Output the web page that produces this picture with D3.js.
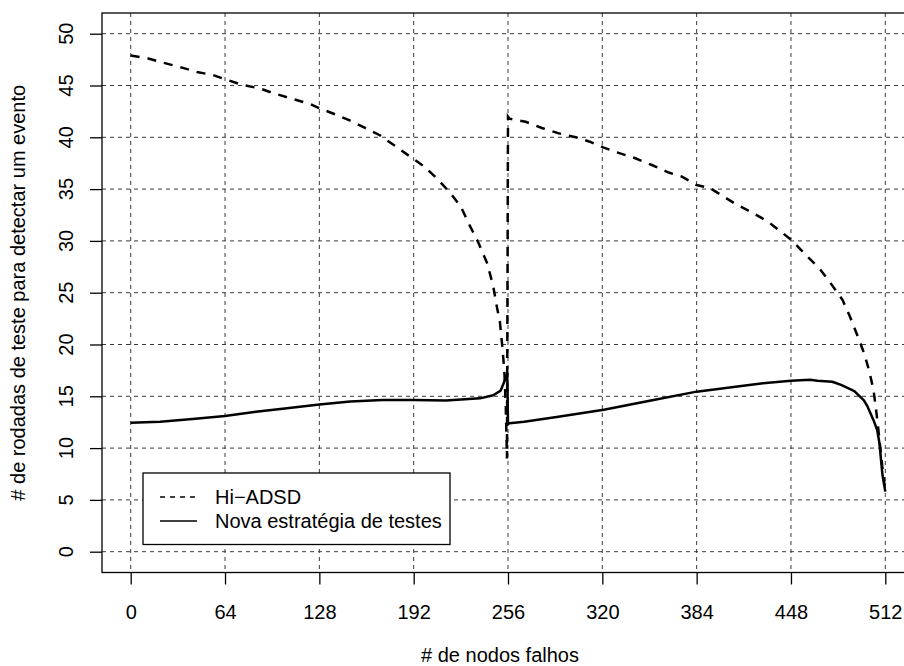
<!DOCTYPE html>
<html>
<head>
<meta charset="utf-8">
<script src="https://cdn.jsdelivr.net/npm/d3@7"></script>
<style>
  body { margin: 0; background: #fff; }
  text { font-family: "Liberation Sans", Arial, sans-serif; fill: #000; }
</style>
</head>
<body>
<script>
// values
const hiX = [0, 12, 22, 33, 45, 56, 64, 76, 88, 97, 110, 122, 128, 140, 149, 159, 169, 180, 190, 199,
  208, 217, 224, 230, 236, 242, 246, 248.5, 250.5, 252, 253.5, 254.5, 255.3, 256, 257, 268, 279, 290,
  302, 311, 321, 331, 342, 354, 365, 374, 384, 393, 401, 410, 422, 432, 442, 449, 459, 467, 475, 483,
  488, 493, 497.5, 501, 504, 506, 507.6, 509, 510.5, 512];
const hiY = [47.9, 47.6, 47.2, 46.8, 46.3, 46.0, 45.6, 45.05, 44.7, 44.25, 43.7, 43.2, 42.8, 42.15, 41.6,
  40.9, 40.2, 39.1, 38.1, 37.2, 36.0, 34.6, 33.3, 31.5, 29.8, 27.8, 25.6, 23.6, 22.2, 20, 17.5, 14, 9,
  42, 41.8, 41.5, 40.9, 40.4, 40.0, 39.6, 39.0, 38.5, 38.0, 37.3, 36.6, 36.2, 35.4, 35.1, 34.4, 33.6,
  32.7, 31.9, 30.8, 30.0, 28.5, 27.4, 25.9, 24.3, 22.7, 20.9, 19.2, 17.5, 15.6, 13.4, 11.4, 9.5, 7.5, 5.9];

const novaX = [0, 20, 42, 64, 85, 106, 128, 149, 171, 192, 214, 237, 246, 251, 254, 255.5, 256, 257,
  267, 289, 321, 353, 384, 409, 429, 448, 461, 466, 476, 482, 491, 497.5, 500, 504, 506.5, 508, 510, 512];
const novaY = [12.45, 12.55, 12.8, 13.1, 13.5, 13.85, 14.2, 14.5, 14.65, 14.65, 14.6, 14.8, 15.1, 15.55,
  16.6, 17.2, 12.3, 12.4, 12.55, 13.0, 13.7, 14.6, 15.45, 15.9, 16.25, 16.5, 16.6, 16.5, 16.4, 16.1,
  15.5, 14.6, 14.0, 12.7, 11.75, 10.5, 7.5, 5.8];

const xTicks = [0, 64, 128, 192, 256, 320, 384, 448, 512];
const yTicks = [0, 5, 10, 15, 20, 25, 30, 35, 40, 45, 50];
const seriesNames = ["Hi\u2212ADSD", "Nova estratégia de testes"];

const W = 904, H = 666;
const box = { left: 102, top: 13, right: 916, bottom: 572.5 };

const x = d3.scaleLinear().domain([0, 512]).range([130.7, 885.3]);
const y = d3.scaleLinear().domain([0, 50]).range([551.7, 33.7]);

const svg = d3.select("body").append("svg")
  .attr("width", W).attr("height", H);

svg.append("defs").append("clipPath").attr("id", "plotclip")
  .append("rect")
  .attr("x", box.left).attr("y", box.top)
  .attr("width", box.right - box.left).attr("height", box.bottom - box.top);

// grid
const grid = svg.append("g").attr("clip-path", "url(#plotclip)");
grid.selectAll("line.v").data(xTicks).enter().append("line")
  .attr("x1", d => x(d)).attr("x2", d => x(d))
  .attr("y1", box.top).attr("y2", box.bottom)
  .attr("stroke", "#3a3a3a").attr("stroke-width", 1).attr("stroke-dasharray", "4,4");
grid.selectAll("line.h").data(yTicks).enter().append("line")
  .attr("y1", d => y(d)).attr("y2", d => y(d))
  .attr("x1", box.left).attr("x2", box.right)
  .attr("stroke", "#3a3a3a").attr("stroke-width", 1).attr("stroke-dasharray", "4,4");

// series
const line = d3.line().x(d => x(d[0])).y(d => y(d[1]));
const hiData = hiX.map((v, i) => [v, hiY[i]]);
const novaData = novaX.map((v, i) => [v, novaY[i]]);

const plot = svg.append("g").attr("clip-path", "url(#plotclip)");
plot.append("path").datum(hiData)
  .attr("d", line).attr("fill", "none").attr("stroke", "#000")
  .attr("stroke-width", 2.5).attr("stroke-dasharray", "9,8");
plot.append("path").datum(novaData)
  .attr("d", line).attr("fill", "none").attr("stroke", "#000")
  .attr("stroke-width", 2.5).attr("stroke-linejoin", "round");

// box
svg.append("rect")
  .attr("x", box.left).attr("y", box.top)
  .attr("width", box.right - box.left).attr("height", box.bottom - box.top)
  .attr("fill", "none").attr("stroke", "#000").attr("stroke-width", 1.3);

// x axis
const xAxis = svg.append("g").attr("transform", `translate(0,${box.bottom})`)
  .call(d3.axisBottom(x).tickValues(xTicks).tickSize(12).tickPadding(20));
xAxis.select(".domain").remove();
xAxis.selectAll("line").attr("stroke-width", 1.3);
xAxis.selectAll("text").style("font-size", "20px")
  .style("font-family", "'Liberation Sans', Arial, sans-serif");

// y axis: ticks from d3, labels rotated like R's default las=0
const yAxis = svg.append("g").attr("transform", `translate(${box.left},0)`)
  .call(d3.axisLeft(y).tickValues(yTicks).tickSize(12).tickFormat(""));
yAxis.select(".domain").remove();
yAxis.selectAll("line").attr("stroke-width", 1.3);
svg.append("g").selectAll("text").data(yTicks).enter().append("text")
  .attr("transform", d => `translate(73,${y(d)}) rotate(-90)`)
  .attr("text-anchor", "middle")
  .style("font-size", "20px")
  .text(d => d);

// axis titles
svg.append("text")
  .attr("x", 500).attr("y", 662)
  .attr("text-anchor", "middle").style("font-size", "20px")
  .text("# de nodos falhos");
svg.append("text")
  .attr("transform", `translate(25,${(box.top + box.bottom) / 2}) rotate(-90)`)
  .attr("text-anchor", "middle").style("font-size", "20px")
  .text("# de rodadas de teste para detectar um evento");

// legend
const lg = svg.append("g");
lg.append("rect")
  .attr("x", 143).attr("y", 473).attr("width", 307).attr("height", 71.5)
  .attr("fill", "#fff").attr("stroke", "#000").attr("stroke-width", 1.3);
const legendRows = [
  { name: seriesNames[0], dash: "5,5", y: 497 },
  { name: seriesNames[1], dash: null, y: 521 }
];
legendRows.forEach(r => {
  lg.append("line")
    .attr("x1", 160).attr("x2", 197).attr("y1", r.y).attr("y2", r.y)
    .attr("stroke", "#000").attr("stroke-width", 1.3)
    .attr("stroke-dasharray", r.dash);
  lg.append("text")
    .attr("x", 215).attr("y", r.y + 7).style("font-size", "20px")
    .text(r.name);
});
</script>
</body>
</html>
